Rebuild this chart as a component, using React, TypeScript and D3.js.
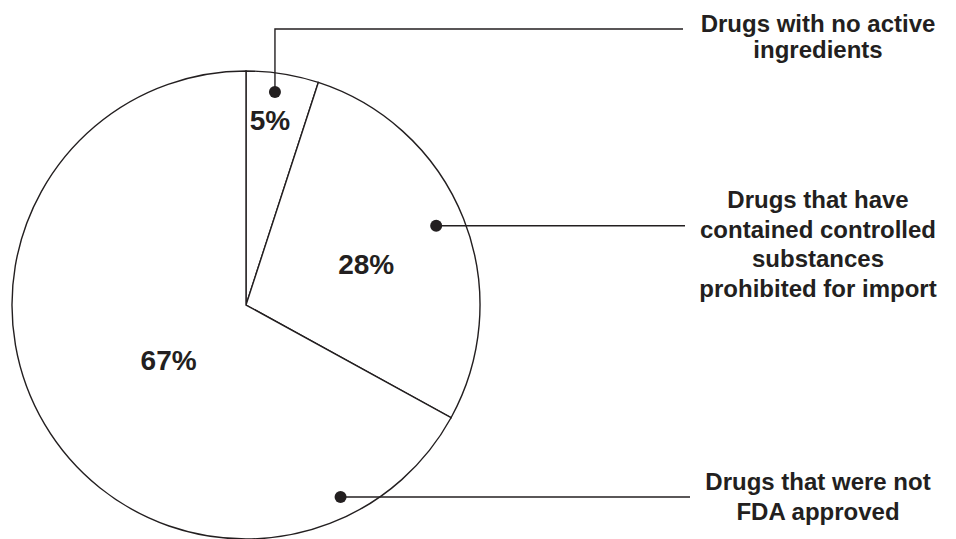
import { useEffect, useRef } from "react";
import * as d3 from "d3";

const categories = ["No active ingredients", "Controlled substances", "Not FDA approved"];
const values = [5, 28, 67];
const pctLabels = ["5%", "28%", "67%"];
const calloutLines = [
  ["Drugs with no active", "ingredients"],
  ["Drugs that have", "contained controlled", "substances", "prohibited for import"],
  ["Drugs that were not", "FDA approved"],
];

const INK = "#231f20";

export default function App() {
  const ref = useRef<SVGSVGElement>(null);

  useEffect(() => {
    document.body.style.margin = "0";
    if (!ref.current) return;
    const width = 956;
    const height = 539;
    const svg = d3.select(ref.current);
    svg.selectAll("*").remove();
    svg.attr("width", width).attr("height", height);

    const cx = 246;
    const cy = 305;
    const radius = 234;
    const font = "'Liberation Sans', Arial, Helvetica, sans-serif";

    const data = categories.map((c, i) => ({ name: c, value: values[i], idx: i }));
    const pie = d3.pie<(typeof data)[0]>().value((d) => d.value).sort(null);
    const arcs = pie(data);
    const arc = d3.arc<d3.PieArcDatum<(typeof data)[0]>>().innerRadius(0).outerRadius(radius);

    const g = svg.append("g").attr("transform", `translate(${cx},${cy})`);

    g.selectAll("path")
      .data(arcs)
      .enter()
      .append("path")
      .attr("d", arc)
      .attr("fill", "#fff")
      .attr("stroke", INK)
      .attr("stroke-width", 1.4);

    // percent labels: fraction along slice + radius
    const pctPos = [
      { f: 0.41, r: 187 },
      { f: 0.527, r: 127 },
      { f: 0.48, r: 95 },
    ];
    arcs.forEach((a, i) => {
      const ang = a.startAngle + (a.endAngle - a.startAngle) * pctPos[i].f;
      const [x, y] = d3.pointRadial(ang, pctPos[i].r);
      g.append("text")
        .attr("x", x)
        .attr("y", y)
        .attr("dy", "0.36em")
        .attr("text-anchor", "middle")
        .attr("font-family", font)
        .attr("font-weight", "bold")
        .attr("font-size", 28)
        .attr("fill", INK)
        .text(pctLabels[i]);
    });

    // leader dots and lines
    const dotPos = [
      { f: 0.43, r: 215, lineY: 29, lineX: 683 },
      { f: 0.49, r: 206, lineY: null, lineX: 685 },
      { f: 0.145, r: 214, lineY: null, lineX: 690 },
    ];
    const labelX = 818;
    const labelY = [
      [32, 58],
      [208, 238, 267, 297],
      [490, 520],
    ];
    arcs.forEach((a, i) => {
      const ang = a.startAngle + (a.endAngle - a.startAngle) * dotPos[i].f;
      const [px, py] = d3.pointRadial(ang, dotPos[i].r);
      const x = cx + px;
      const y = cy + py;
      const ly = dotPos[i].lineY;
      const pts: [number, number][] =
        ly !== null ? [[x, y], [x, ly], [dotPos[i].lineX, ly]] : [[x, y], [dotPos[i].lineX, y]];
      svg
        .append("path")
        .attr("d", d3.line()(pts))
        .attr("fill", "none")
        .attr("stroke", INK)
        .attr("stroke-width", 1.4);
      svg.append("circle").attr("cx", x).attr("cy", y).attr("r", 6).attr("fill", INK);

      const t = svg
        .append("text")
        .attr("text-anchor", "middle")
        .attr("font-family", font)
        .attr("font-weight", "bold")
        .attr("font-size", 24)
        .attr("fill", INK);
      calloutLines[i].forEach((line, j) => {
        t.append("tspan").attr("x", labelX).attr("y", labelY[i][j]).text(line);
      });
    });
  }, []);

  return <svg ref={ref} style={{ display: "block", background: "#fff" }} />;
}
